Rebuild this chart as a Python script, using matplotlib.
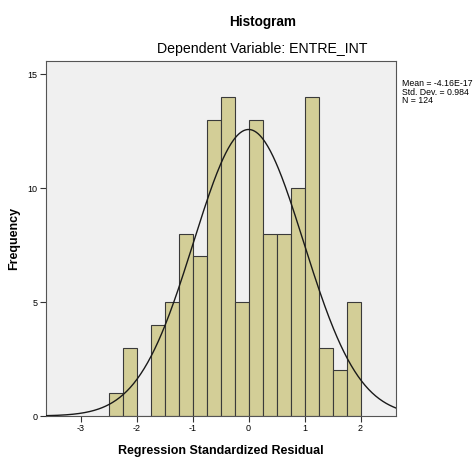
import numpy as np
import matplotlib.pyplot as plt

# histogram of regression standardized residuals (read from the SPSS output)
bin_left = [-2.5, -2.25, -2.0, -1.75, -1.5, -1.25, -1.0, -0.75, -0.5, -0.25,
            0.0, 0.25, 0.5, 0.75, 1.0, 1.25, 1.5, 1.75]
counts = [1, 3, 0, 4, 5, 8, 7, 13, 14, 5, 13, 8, 8, 10, 14, 3, 2, 5]
bin_width = 0.25

mean = -4.16e-17
std = 0.984
n = 124

x_ticks = [-3, -2, -1, 0, 1, 2]
y_ticks = [0, 5, 10, 15]

plt.rcParams['font.family'] = ['Liberation Sans', 'DejaVu Sans']

fig = plt.figure(figsize=(4.74, 4.58), dpi=100)
ax = fig.add_axes([0.097, 0.0917, 0.738, 0.775])
ax.set_facecolor('#F0F0F0')

ax.bar(bin_left, counts, width=bin_width, align='edge',
       color='#D3CE97', edgecolor='#3A3A3A', linewidth=0.8, zorder=2)

xmin, xmax = -3.62, 2.63
xs = np.linspace(xmin, xmax, 400)
pdf = n * bin_width / (std * np.sqrt(2 * np.pi)) * np.exp(-0.5 * ((xs - mean) / std) ** 2)
ax.plot(xs, pdf, color='#1a1a1a', linewidth=1.0, zorder=3)

ax.set_xlim(xmin, xmax)
ax.set_ylim(0, 15.57)
ax.set_xticks(x_ticks)
ax.set_xticklabels([str(t) for t in x_ticks])
ax.set_yticks(y_ticks)
ax.tick_params(axis='both', labelsize=6.5, length=4, width=0.8, color='#333333', pad=2)

for s in ax.spines.values():
    s.set_color('#555555')
    s.set_linewidth(0.8)

# axis titles placed in figure pixels to match the SPSS layout
fig.text(221 / 474, 1 - 451 / 458, 'Regression Standardized Residual',
         ha='center', va='center', fontsize=9, fontweight='bold')
fig.text(14.5 / 474, 1 - 238 / 458, 'Frequency', rotation=90,
         ha='center', va='center', fontsize=9, fontweight='bold')

fig.text(0.554, 0.952, 'Histogram', ha='center', va='center', fontsize=9.8, fontweight='bold')
fig.text(0.554, 0.893, 'Dependent Variable: ENTRE_INT', ha='center', va='center', fontsize=10.2)

fig.text(0.848, 0.799, 'Mean = -4.16E-17\nStd. Dev. = 0.984\nN = 124',
         ha='left', va='center', fontsize=6.3, linespacing=0.92)

fig.savefig('out.png', dpi=100)
